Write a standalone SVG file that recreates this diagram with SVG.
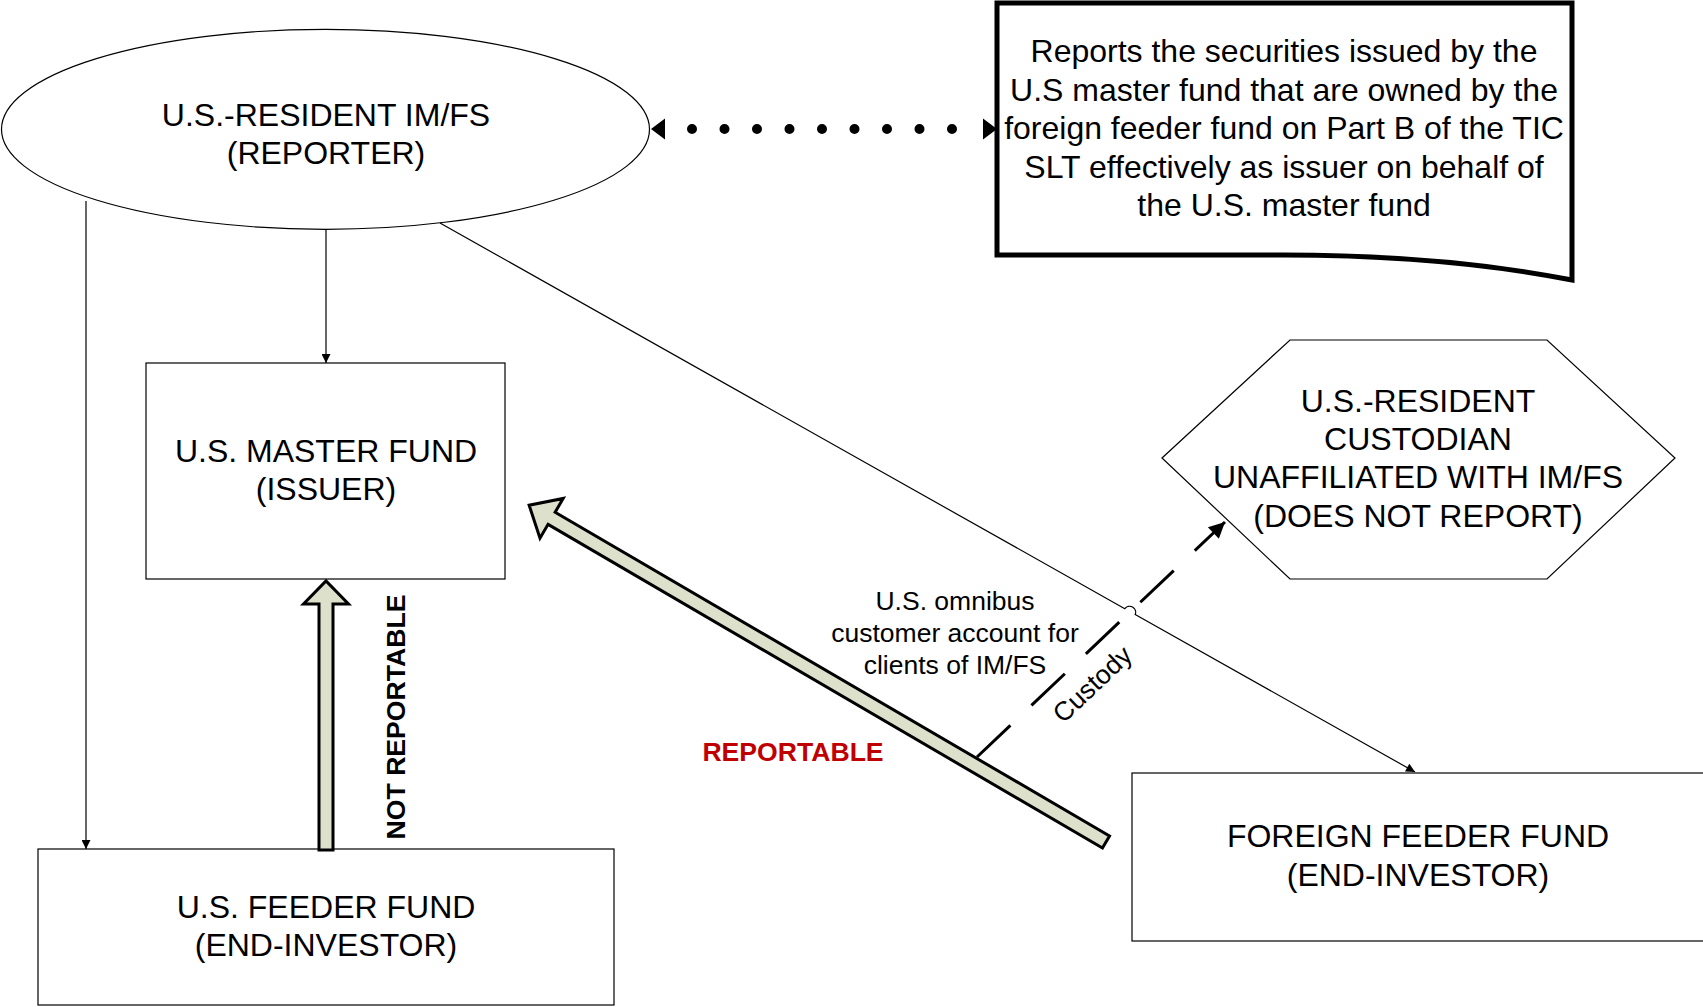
<svg xmlns="http://www.w3.org/2000/svg" width="1703" height="1007" viewBox="0 0 1703 1007">
  <style>
    .node { fill: #ffffff; stroke: #000000; stroke-width: 1.2; }
    .label { font-family: "Liberation Sans", Arial, sans-serif; font-size: 32px; fill: #000000; text-anchor: middle; }
    .small { font-family: "Liberation Sans", Arial, sans-serif; font-size: 26.5px; fill: #000000; text-anchor: middle; }
    .bold { font-family: "Liberation Sans", Arial, sans-serif; font-size: 26.6px; font-weight: bold; text-anchor: middle; }
    .conn { fill: none; stroke: #000000; stroke-width: 1.2; }
    .block { fill: #dde1cc; stroke: #000000; stroke-width: 3; stroke-linejoin: miter; }
  </style>
  <defs>
    <marker id="tri" viewBox="0 0 10 10" refX="10" refY="5" markerUnits="userSpaceOnUse" markerWidth="10" markerHeight="9" orient="auto">
      <path d="M0,0 L10,5 L0,10 z" fill="#000000"/>
    </marker>
    <marker id="triBig" viewBox="0 0 10 10" refX="10" refY="5" markerUnits="userSpaceOnUse" markerWidth="22" markerHeight="16" orient="auto">
      <path d="M0,0 L10,5 L0,10 z" fill="#000000"/>
    </marker>
  </defs>

  <!-- Nodes -->
  <g id="node-reporter">
    <ellipse class="node" cx="325.5" cy="129.3" rx="324" ry="100"/>
    <text class="label" x="326" y="126">U.S.-RESIDENT IM/FS</text>
    <text class="label" x="326" y="164">(REPORTER)</text>
  </g>

  <g id="node-note">
    <path d="M997,3 L1572,3 L1572,280 C1480,262 1380,255 1284,255 L997,255 Z" fill="#ffffff" stroke="#000000" stroke-width="5" stroke-linejoin="miter"/>
    <text class="label" x="1284" y="62">Reports the securities issued by the</text>
    <text class="label" x="1284" y="101">U.S master fund that are owned by the</text>
    <text class="label" x="1284" y="139">foreign feeder fund on Part B of the TIC</text>
    <text class="label" x="1284" y="178">SLT effectively as issuer on behalf of</text>
    <text class="label" x="1284" y="216">the U.S. master fund</text>
  </g>

  <g id="node-master">
    <rect class="node" x="146" y="363" width="359" height="216"/>
    <text class="label" x="326" y="462">U.S. MASTER FUND</text>
    <text class="label" x="326" y="500">(ISSUER)</text>
  </g>

  <g id="node-us-feeder">
    <rect class="node" x="38" y="849" width="576" height="156"/>
    <text class="label" x="326" y="918">U.S. FEEDER FUND</text>
    <text class="label" x="326" y="956">(END-INVESTOR)</text>
  </g>

  <g id="node-custodian">
    <polygon class="node" points="1162,458 1290,340 1547,340 1675,458 1547,579 1290,579"/>
    <text class="label" x="1418" y="412">U.S.-RESIDENT</text>
    <text class="label" x="1418" y="450">CUSTODIAN</text>
    <text class="label" x="1418" y="488">UNAFFILIATED WITH IM/FS</text>
    <text class="label" x="1418" y="527">(DOES NOT REPORT)</text>
  </g>

  <g id="node-foreign-feeder">
    <rect class="node" x="1132" y="773" width="572" height="168"/>
    <text class="label" x="1418" y="847">FOREIGN FEEDER FUND</text>
    <text class="label" x="1418" y="886">(END-INVESTOR)</text>
  </g>

  <!-- Connectors -->
  <g id="connectors">
    <!-- reporter to feeders and master -->
    <path class="conn" d="M86,201 L86,849" marker-end="url(#tri)"/>
    <path class="conn" d="M326,229 L326,363" marker-end="url(#tri)"/>
    <path class="conn" d="M440,223 L1124.8,608.7 A6,6 0 0 1 1135.2,614.5 L1415,772" marker-end="url(#tri)"/>

    <!-- dotted two-way link between reporter and note -->
    <line x1="692" y1="129" x2="953" y2="129" stroke="#000000" stroke-width="10" stroke-linecap="round" stroke-dasharray="0 32.5"/>
    <polygon points="651,129 665,118.5 665,139.5" fill="#000000"/>
    <polygon points="997,129 983,118.5 983,139.5" fill="#000000"/>

    <!-- custody link -->
    <path d="M977,757 L1225,522" fill="none" stroke="#000000" stroke-width="3" stroke-dasharray="46 29" marker-end="url(#triBig)"/>

    <!-- block arrow: foreign feeder to master -->
    <polygon class="block" transform="translate(1106,842) rotate(210.28)" points="0,-7 642,-7 642,-23 668,0 642,23 642,7 0,7"/>

    <!-- block arrow: US feeder to master -->
    <polygon class="block" points="319,850 319,604 303.5,604 326,581 348.5,604 333,604 333,850"/>

    <!-- connector labels -->
    <text class="small" x="955" y="610">U.S. omnibus</text>
    <text class="small" x="955" y="642">customer account for</text>
    <text class="small" x="955" y="674">clients of IM/FS</text>
    <text class="small" transform="translate(1093,685) rotate(-43.5)" x="0" y="8">Custody</text>
    <text class="bold" x="793" y="761" fill="#c00000">REPORTABLE</text>
    <text class="bold" transform="translate(405,717) rotate(-90)" x="0" y="0" fill="#000000">NOT REPORTABLE</text>
  </g>
</svg>
